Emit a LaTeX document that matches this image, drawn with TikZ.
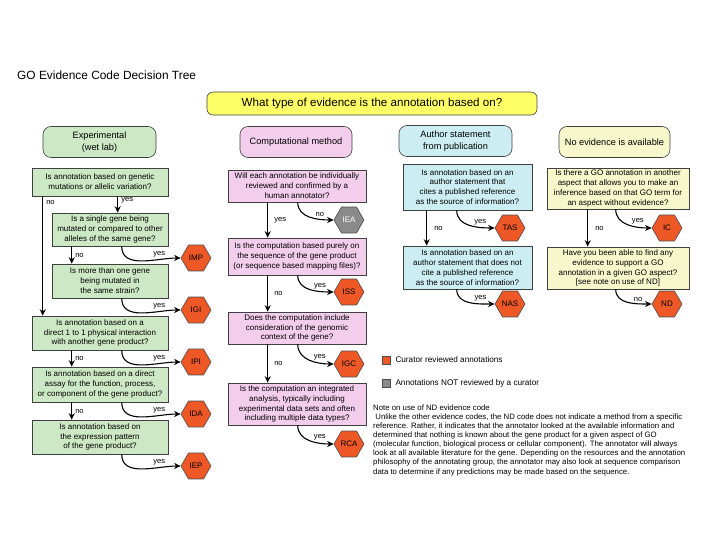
\documentclass[tikz,border=0pt]{standalone}
\usepackage{fontspec}
\setmainfont{Liberation Sans}
\usetikzlibrary{shapes.geometric,arrows.meta}
\definecolor{expg}{RGB}{205,232,197}
\definecolor{compp}{RGB}{242,206,236}
\definecolor{authc}{RGB}{204,238,242}
\definecolor{noevy}{RGB}{247,247,204}
\definecolor{bannery}{RGB}{255,255,102}
\definecolor{hexo}{RGB}{238,88,38}
\definecolor{hexg}{RGB}{138,138,138}
\begin{document}
\begin{tikzpicture}[x=1pt,y=-1pt,
  qbox/.style={draw=black!75, line width=0.6pt, align=center, inner sep=0pt,
     font=\fontsize{8}{9.9}\selectfont},
  hdr/.style={draw=black!75, line width=0.6pt, rounded corners=8pt, align=center, inner sep=0pt,
     minimum height=31pt, font=\fontsize{9.2}{11.5}\selectfont},
  hex/.style={regular polygon, regular polygon sides=6, minimum size=30pt, inner sep=0pt,
     draw=black!70, line width=0.6pt, fill=hexo, font=\fontsize{8}{9}\selectfont},
  hexgrey/.style={hex, fill=hexg, text=white},
  arr/.style={-{Stealth[length=6.5pt,width=6pt]}, line width=1.1pt},
  lbl/.style={font=\fontsize{7.6}{8.5}\selectfont, inner sep=1pt},
  leglbl/.style={font=\fontsize{8.2}{9}\selectfont, inner sep=1pt},
  legsq/.style={draw=black!70, line width=0.6pt, minimum size=8pt, inner sep=0pt}
]
\useasboundingbox (0,0) rectangle (720,540);

% title and banner
\node[anchor=west, font=\fontsize{11.9}{14}\selectfont, inner sep=0pt] (title) at (17,75) {GO Evidence Code Decision Tree};
\node[draw=black!75, line width=0.6pt, rounded corners=6pt, fill=bannery, minimum width=330pt, minimum height=23pt,
  inner sep=0pt, font=\fontsize{11.6}{13}\selectfont] (banner) at (372,103.5) {What type of evidence is the annotation based on?};

% headers
\node[hdr, fill=expg, minimum width=113pt] (h1) at (99.5,142) {Experimental\\(wet lab)};
\node[hdr, fill=compp, minimum width=112pt] (h2) at (296,142) {Computational method};
\node[hdr, fill=authc, minimum width=113pt] (h3) at (455.5,141) {Author statement\\from publication};
\node[hdr, fill=noevy, minimum width=111pt] (h4) at (614.5,142) {No evidence is available};

% experimental
\node[qbox, fill=expg, minimum width=136pt, minimum height=28pt] (q1) at (100,182)
  {Is annotation based on genetic\\mutations or allelic variation?};
\node[qbox, fill=expg, minimum width=116pt, minimum height=33pt] (q2) at (110,229.5)
  {Is a single gene being\\mutated or compared to other\\alleles of the same gene?};
\node[qbox, fill=expg, minimum width=116pt, minimum height=34pt] (q2b) at (110,281)
  {Is more than one gene\\being mutated in\\the same strain?};
\node[qbox, fill=expg, minimum width=136pt, minimum height=34pt] (q3) at (100,333)
  {Is annotation based on a\\direct 1 to 1 physical interaction\\with another gene product?};
\node[qbox, fill=expg, minimum width=136pt, minimum height=35pt] (q4) at (100,384.5)
  {Is annotation based on a direct\\assay for the function, process,\\or component of the gene product?};
\node[qbox, fill=expg, minimum width=136pt, minimum height=34pt] (q5) at (100,437)
  {Is annotation based on\\the expression pattern\\of the gene product?};

\node[hex] (imp) at (196,258) {IMP};
\node[hex] (igi) at (196,310) {IGI};
\node[hex] (ipi) at (196,362) {IPI};
\node[hex] (ida) at (196,414) {IDA};
\node[hex] (iep) at (196,466) {IEP};

\draw[arr] ([xshift=11pt]q1.south west) -- ([xshift=11pt]q3.north west)
  node[lbl, pos=0, anchor=north west, xshift=2pt, yshift=-3pt] {no};
\draw[arr] ([xshift=86pt]q1.south west) -- ([xshift=66pt]q2.north west)
  node[lbl, pos=0.25, anchor=west, xshift=2pt] {yes};
\draw[arr] ([xshift=20pt]q2.south west) -- ([xshift=20pt]q2b.north west)
  node[lbl, midway, anchor=west, xshift=2pt] {no};
\draw[arr] ([xshift=70pt]q2.south west) to[out=-90,in=180]
  node[lbl, pos=0.72, above, yshift=1pt] {yes} (imp.west);
\draw[arr] ([xshift=70pt]q2b.south west) to[out=-90,in=180]
  node[lbl, pos=0.72, above, yshift=1pt] {yes} (igi.west);
\draw[arr] ([xshift=40pt]q3.south west) -- ([xshift=40pt]q4.north west)
  node[lbl, midway, anchor=west, xshift=2pt] {no};
\draw[arr] ([xshift=90pt]q3.south west) to[out=-90,in=180]
  node[lbl, pos=0.72, above, yshift=1pt] {yes} (ipi.west);
\draw[arr] ([xshift=40pt]q4.south west) -- ([xshift=40pt]q5.north west)
  node[lbl, midway, anchor=west, xshift=2pt] {no};
\draw[arr] ([xshift=90pt]q4.south west) to[out=-90,in=180]
  node[lbl, pos=0.72, above, yshift=1pt] {yes} (ida.west);
\draw[arr] ([xshift=90pt]q5.south west) to[out=-90,in=180]
  node[lbl, pos=0.72, above, yshift=1pt] {yes} (iep.west);

% computational
\node[qbox, fill=compp, minimum width=138pt, minimum height=32pt] (c1) at (297,186)
  {Will each annotation be individually\\reviewed and confirmed by a\\human annotator?};
\node[qbox, fill=compp, minimum width=138pt, minimum height=37pt] (c2) at (297,256.5)
  {Is the computation based purely on\\the sequence of the gene product\\(or sequence based mapping files)?};
\node[qbox, fill=compp, minimum width=138pt, minimum height=32pt] (c3) at (297,328)
  {Does the computation include\\consideration of the genomic\\context of the gene?};
\node[qbox, fill=compp, minimum width=138pt, minimum height=42pt] (c4) at (297,404)
  {Is the computation an integrated\\analysis, typically including\\experimental data sets and often\\including multiple data types?};

\node[hexgrey] (iea) at (349,220) {IEA};
\node[hex] (iss) at (349,292) {ISS};
\node[hex] (igc) at (349,364) {IGC};
\node[hex] (rca) at (349,444) {RCA};

\draw[arr] ([xshift=40pt]c1.south west) -- ([xshift=40pt]c2.north west)
  node[lbl, midway, anchor=west, xshift=5pt] {yes};
\draw[arr] ([xshift=70pt]c1.south west) to[out=-90,in=180]
  node[lbl, pos=0.72, above, yshift=1pt] {no} (iea.west);
\draw[arr] ([xshift=40pt]c2.south west) -- ([xshift=40pt]c3.north west)
  node[lbl, midway, anchor=west, xshift=5pt] {no};
\draw[arr] ([xshift=70pt]c2.south west) to[out=-90,in=180]
  node[lbl, pos=0.72, above, yshift=1pt] {yes} (iss.west);
\draw[arr] ([xshift=40pt]c3.south west) -- ([xshift=40pt]c4.north west)
  node[lbl, midway, anchor=west, xshift=5pt] {no};
\draw[arr] ([xshift=70pt]c3.south west) to[out=-90,in=180]
  node[lbl, pos=0.72, above, yshift=1pt] {yes} (igc.west);
\draw[arr] ([xshift=70pt]c4.south west) to[out=-90,in=180]
  node[lbl, pos=0.72, above, yshift=1pt] {yes} (rca.west);

% author statement
\node[qbox, fill=authc, minimum width=129pt, minimum height=46pt] (a1) at (467.5,187)
  {Is annotation based on an\\author statement that\\cites a published reference\\as the source of information?};
\node[qbox, fill=authc, minimum width=129pt, minimum height=43pt] (a2) at (467.5,267.5)
  {Is annotation based on an\\author statement that does not\\cite a published reference\\as the source of information?};
\node[hex] (tas) at (510,228) {TAS};
\node[hex] (nas) at (510,304) {NAS};
\draw[arr] ([xshift=24pt]a1.south west) -- ([xshift=24pt]a2.north west)
  node[lbl, midway, anchor=west, xshift=6pt] {no};
\draw[arr] ([xshift=54pt]a1.south west) to[out=-90,in=180]
  node[lbl, pos=0.72, above, yshift=1pt] {yes} (tas.west);
\draw[arr] ([xshift=54pt]a2.south west) to[out=-90,in=180]
  node[lbl, pos=0.72, above, yshift=1pt] {yes} (nas.west);

% no evidence
\node[qbox, fill=noevy, minimum width=142pt, minimum height=41pt] (n1) at (618,188.5)
  {Is there a GO annotation in another\\aspect that allows you to make an\\inference based on that GO term for\\an aspect without evidence?};
\node[qbox, fill=noevy, minimum width=142pt, minimum height=42pt] (n2) at (618,268)
  {Have you been able to find any\\evidence to support a GO\\annotation in a given GO aspect?\\{[see note on use of ND]}};
\node[hex] (ic) at (667,228) {IC};
\node[hex] (nd) at (667,304) {ND};
\draw[arr] ([xshift=41pt]n1.south west) -- ([xshift=41pt]n2.north west)
  node[lbl, midway, anchor=west, xshift=6pt] {no};
\draw[arr] ([xshift=69pt]n1.south west) to[out=-90,in=180]
  node[lbl, pos=0.72, above, yshift=1pt] {yes} (ic.west);
\draw[arr] ([xshift=69pt]n2.south west) to[out=-90,in=180]
  node[lbl, pos=0.72, above, yshift=1pt] {no} (nd.west);

% legend
\node[legsq, fill=hexo] (leg1) at (386,360) {};
\node[leglbl, anchor=west, xshift=4pt] (leg1t) at (leg1.east) {Curator reviewed annotations};
\node[legsq, fill=hexg] (leg2) at (386,383) {};
\node[leglbl, anchor=west, xshift=4pt] (leg2t) at (leg2.east) {Annotations NOT reviewed by a curator};

% note
\node[anchor=north west, align=left, inner sep=0pt, font=\fontsize{7.8}{9.1}\selectfont] (note) at (373,404.5)
  {Note on use of ND evidence code\\
  \ Unlike the other evidence codes, the ND code does not indicate a method from a specific\\
  reference. Rather, it indicates that the annotator looked at the available information and\\
  determined that nothing is known about the gene product for a given aspect of GO\\
  (molecular function, biological process or cellular component). The annotator will always\\
  look at all available literature for the gene. Depending on the resources and the annotation\\
  philosophy of the annotating group, the annotator may also look at sequence comparison\\
  data to determine if any predictions may be made based on the sequence.};
\end{tikzpicture}
\end{document}
